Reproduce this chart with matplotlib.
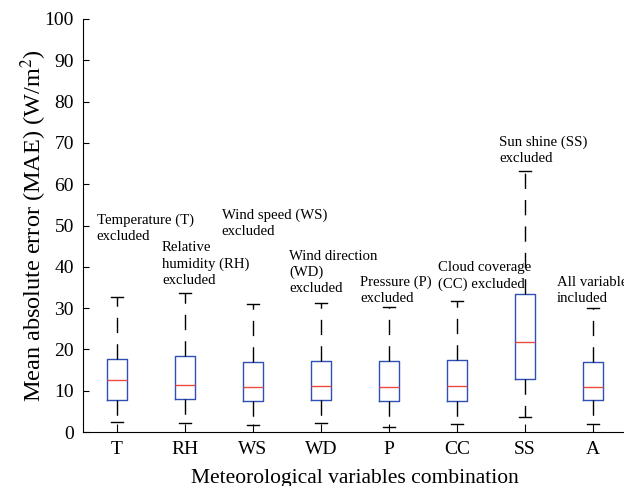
import matplotlib
matplotlib.use('Agg')
import matplotlib.pyplot as plt

# categories and box statistics (MAE, W/m^2)
categories = ['T', 'RH', 'WS', 'WD', 'P', 'CC', 'SS', 'A']
whisker_low = [2.5, 2.2, 1.8, 2.3, 1.3, 1.9, 3.7, 1.9]
q1 = [7.7, 7.9, 7.4, 7.7, 7.5, 7.6, 12.9, 7.7]
medians = [12.5, 11.5, 11.0, 11.1, 11.0, 11.2, 21.9, 11.0]
q3 = [17.8, 18.3, 16.9, 17.2, 17.2, 17.4, 33.3, 16.9]
whisker_high = [32.8, 33.6, 30.9, 31.3, 30.3, 31.7, 63.3, 30.1]

# annotation texts and where they sit (x in category units, y = top of text)
notes = ['Temperature (T)\nexcluded', 'Relative\nhumidity (RH)\nexcluded',
         'Wind speed (WS)\nexcluded', 'Wind direction\n(WD)\nexcluded',
         'Pressure (P)\nexcluded', 'Cloud coverage\n(CC) excluded',
         'Sun shine (SS)\nexcluded', 'All variables\nincluded']
note_x = [0.70, 1.66, 2.54, 3.53, 4.58, 5.72, 6.62, 7.47]
note_y = [53.0, 46.2, 54.0, 44.1, 38.0, 41.4, 71.9, 37.8]

plt.rcParams['font.family'] = 'Liberation Serif'
plt.rcParams['mathtext.fontset'] = 'stix'

fig = plt.figure(figsize=(6.24, 4.86), dpi=100)
ax = fig.add_axes([0.133, 0.111, 0.872, 0.850])

stats = []
for i, name in enumerate(categories):
    stats.append({'label': name, 'whislo': whisker_low[i], 'q1': q1[i],
                  'med': medians[i], 'q3': q3[i], 'whishi': whisker_high[i],
                  'fliers': []})

positions = list(range(1, len(categories) + 1))
ax.bxp(stats, positions=positions, widths=0.30, showfliers=False,
       boxprops=dict(color='#2f4fb5', linewidth=1.0),
       medianprops=dict(color='#eb4a40', linewidth=1.0),
       whiskerprops=dict(color='black', linewidth=1.0, linestyle=(0, (11, 8))),
       capprops=dict(color='black', linewidth=1.0),
       capwidths=0.17)

for x, y, s in zip(note_x, note_y, notes):
    ax.text(x, y, s, ha='left', va='top', fontsize=10.6, linespacing=1.3)

ax.set_xlim(0.5, 8.5)
ax.set_ylim(0, 100)
ax.set_yticks(range(0, 101, 10))
ax.set_xticks(positions)
ax.set_xticklabels(categories)
ax.tick_params(direction='in', length=4.5, labelsize=14, width=0.8, pad=6.5)
ax.tick_params(axis='x', length=6)
ax.spines['top'].set_visible(False)
ax.spines['right'].set_visible(False)

ax.set_ylabel('Mean absolute error (MAE) (W/m$^2$)', fontsize=17.5, labelpad=-3)
ax.set_xlabel('Meteorological variables combination', fontsize=15.5, labelpad=8)

fig.savefig('out.png', dpi=100)
